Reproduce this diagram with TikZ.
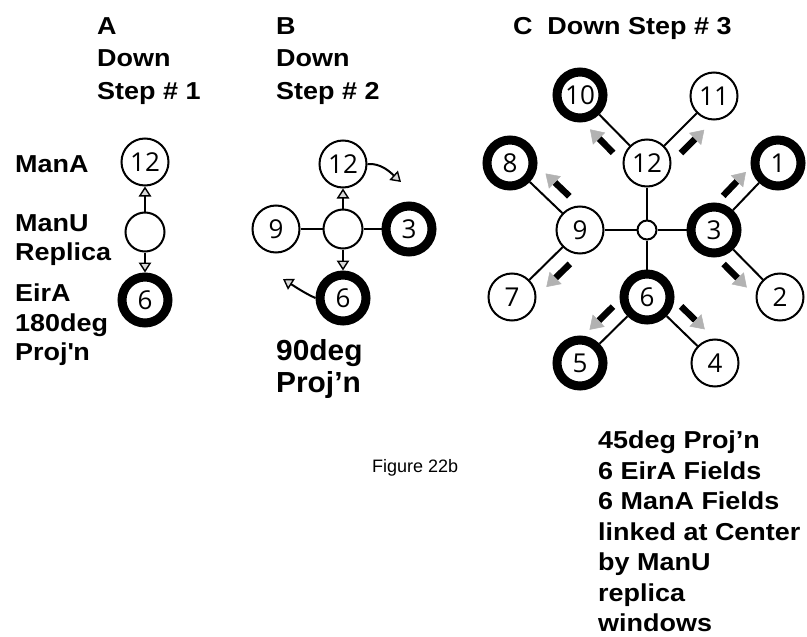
\documentclass[tikz,border=0pt]{standalone}
\usepackage{fontspec}
\newfontfamily\lblfont{Liberation Sans Bold}[FakeStretch=1.1]
\newfontfamily\figfont{Liberation Sans}
\newfontfamily\bigfont{Liberation Sans Bold}[FakeStretch=1.03]
\newfontfamily\numfont{Open Sans}
\usetikzlibrary{arrows.meta,calc}
\newcommand\pushArrow[3]{%
  \coordinate (pa1) at ($(#1)!31pt!(#2)$);
  \coordinate (pa2) at ($(#1)!64pt!(#2)$);
  \draw[fat] ($(pa1)!17pt!#3:(#2)$) -- ($(pa2)!17pt!#3:(#2)$);
}
\begin{document}
\begin{tikzpicture}[x=1pt,y=-1pt,
  field/.style={circle,draw,line width=2pt,minimum size=47pt,inner sep=0pt,fill=white,
    font=\numfont\fontsize{26}{26}\selectfont},
  eira/.style={field,line width=9pt,minimum size=46pt},
  hub/.style={circle,draw,line width=2pt,minimum size=39pt,inner sep=0pt,fill=white},
  core/.style={circle,draw,line width=2pt,minimum size=19pt,inner sep=0pt,fill=white},
  link/.style={line width=2pt},
  ptr/.style={line width=2pt,-{Triangle[length=10pt,width=12.5pt,fill=gray!30,line width=1.4pt]}},
  fat/.style={line width=6.5pt,-{Triangle[length=13pt,width=17pt,color=gray!60,line width=0.5pt]}},
  lbl/.style={anchor=north west,inner sep=0pt,align=left,
    font=\lblfont\fontsize{24.5}{32.5}\selectfont},
  lbls/.style={lbl,font=\lblfont\fontsize{24.5}{29.5}\selectfont},
]
\useasboundingbox (0,0) rectangle (807,637);

% ---------- A ----------
\node[lbl] (tA) at (97,17) {A\\Down\\Step \# 1};
\node[lbls] (lManA) at (15,155) {ManA};
\node[lbls] (lManU) at (15,214) {ManU\\Replica};
\node[lbls] (lEirA) at (15,284) {EirA\\180deg\\Proj\textquotesingle n};
\node[field] (a12) at (145,162) {12};
\node[hub] (amu) at (145,232) {};
\node[eira] (a6) at (145,300) {6};
\draw[ptr] (amu) -- (a12);
\draw[ptr] (amu) -- (a6);

% ---------- B ----------
\node[lbl] (tB) at (276,17) {B\\Down\\Step \# 2};
\node[field] (b12) at (343,164) {12};
\node[hub] (bmu) at (343,229) {};
\node[field] (b9) at (276,229) {9};
\node[eira] (b3) at (409,229) {3};
\node[eira] (b6) at (343,298) {6};
\draw[link] (b9) -- (bmu);
\draw[link] (bmu) -- (b3);
\draw[ptr] (bmu) -- (b12);
\draw[ptr] (bmu) -- (b6);
\coordinate (bt1) at (401,182);
\coordinate (bt2) at (283,279);
\draw[ptr] (b12.east) .. controls (381,163) and (390,172) .. (bt1);
\draw[ptr] (b6.west) .. controls (306,294) and (294,286) .. (bt2);
\node[anchor=north west,inner sep=0pt,align=left,
  font=\bigfont\fontsize{29}{32}\selectfont] (l90) at (276,339) {90deg\\Proj’n};

% ---------- Figure caption ----------
\node[anchor=north west,inner sep=0pt,font=\figfont\fontsize{18}{18}\selectfont] (fig) at (372,459) {Figure 22b};

% ---------- C ----------
\node[lbl] (tC) at (513,17) {C\hspace{0.6em}Down Step \# 3};
\node[core] (core) at (647,230) {};
\node[field] (c12) at (647,163) {12};
\node[field] (c9) at (580,230) {9};
\node[eira] (c3) at (714,230) {3};
\node[eira] (c6) at (647,297) {6};
\node[eira] (c10) at (580,95) {10};
\node[field] (c11) at (714,96) {11};
\node[eira] (c8) at (510,163) {8};
\node[field] (c7) at (512,297) {7};
\node[eira] (c1) at (778,163) {1};
\node[field] (c2) at (780,297) {2};
\node[eira] (c5) at (580,363) {5};
\node[field] (c4) at (715,363) {4};
\draw[link] (core) -- (c12);
\draw[link] (core) -- (c9);
\draw[link] (core) -- (c3);
\draw[link] (core) -- (c6);
\draw[link] (c12) -- (c10);
\draw[link] (c12) -- (c11);
\draw[link] (c9) -- (c8);
\draw[link] (c9) -- (c7);
\draw[link] (c3) -- (c1);
\draw[link] (c3) -- (c2);
\draw[link] (c6) -- (c5);
\draw[link] (c6) -- (c4);
\pushArrow{c12}{c10}{90}
\pushArrow{c12}{c11}{-90}
\pushArrow{c9}{c8}{-90}
\pushArrow{c9}{c7}{90}
\pushArrow{c3}{c1}{90}
\pushArrow{c3}{c2}{-90}
\pushArrow{c6}{c5}{-90}
\pushArrow{c6}{c4}{90}
\node[lbl,font=\lblfont\fontsize{24.5}{30.5}\selectfont] (l45) at (598,431)
  {45deg Proj’n\\6 EirA Fields\\6 ManA Fields\\linked at Center\\by ManU\\replica\\windows};
\end{tikzpicture}
\end{document}
